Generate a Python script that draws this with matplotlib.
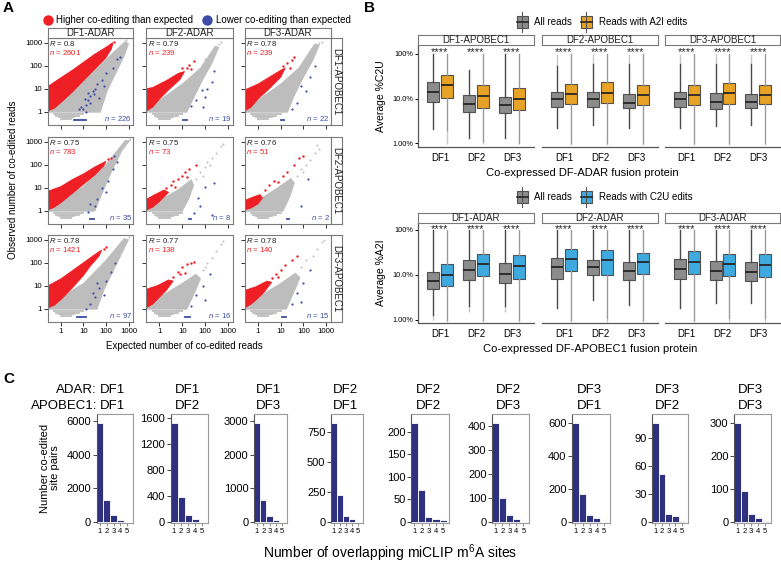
import matplotlib
matplotlib.use('Agg')
import matplotlib.pyplot as plt
import numpy as np
from matplotlib.lines import Line2D
from matplotlib.patches import Rectangle

plt.rcParams['font.family'] = ['Liberation Sans', 'DejaVu Sans']
plt.rcParams['mathtext.fontset'] = 'custom'
plt.rcParams['mathtext.rm'] = 'Liberation Sans'
plt.rcParams['mathtext.it'] = 'Liberation Sans:italic'

W, H = 781, 563
fig = plt.figure(figsize=(W / 100, H / 100), dpi=100)

RED = '#ee1f25'
BLUE_PT = '#3d4ca6'
GREY_PT = '#bdbdbd'
FRAME = '#7a7a7a'
BOX_GREY = '#8c8c8c'
ORANGE = '#e8a326'
SKY = '#3eaadf'
NAVY = '#2e3180'


def px_axes(x0, y0, x1, y1):
    return fig.add_axes([x0 / W, 1 - y1 / H, (x1 - x0) / W, (y1 - y0) / H])


def strip(x0, y0, x1, y1, label, rot=0, size=7):
    s = px_axes(x0, y0, x1, y1)
    s.set_xticks([]); s.set_yticks([])
    for sp in s.spines.values():
        sp.set_color(FRAME); sp.set_linewidth(0.8)
    s.text(0.5, 0.5, label, ha='center', va='center', rotation=rot, fontsize=size,
           transform=s.transAxes, color='#222222')
    return s


# ---------------- panel A data (log10 expected, log10 observed) ----------------
adar_cols = ['DF1-ADAR', 'DF2-ADAR', 'DF3-ADAR']
apobec_rows = ['DF1-APOBEC1', 'DF2-APOBEC1', 'DF3-APOBEC1']
r_vals = [['0.8', '0.79', '0.78'], ['0.75', '0.75', '0.76'], ['0.78', '0.77', '0.78']]
n_higher = [[2601, 239, 239], [783, 73, 51], [1421, 138, 140]]
n_lower = [[226, 19, 22], [35, 8, 2], [97, 16, 15]]

grey_cloud = [
    [[(-0.59, -0.02), (1.75, -0.02), (2.05, 0.9), (2.45, 1.7), (2.8, 2.4), (3.0, 2.95), (2.85, 3.05),
      (2.3, 2.55), (1.5, 1.8), (0.5, 0.9), (-0.59, 0.15)],
     [(-0.59, -0.02), (1.2, -0.02), (1.5, 0.6), (1.9, 1.4), (2.3, 2.1), (2.6, 2.8), (2.45, 2.85),
      (1.8, 1.9), (1.0, 1.2), (0.0, 0.5), (-0.59, 0.15)],
     [(-0.59, -0.02), (1.3, -0.02), (1.6, 0.7), (2.0, 1.5), (2.4, 2.2), (2.7, 2.9), (2.5, 2.95),
      (1.8, 1.9), (1.0, 1.2), (0.0, 0.5), (-0.59, 0.15)]],
    [[(-0.59, -0.02), (1.5, -0.02), (1.8, 0.7), (2.2, 1.6), (2.7, 2.6), (3.05, 3.05), (2.85, 3.05),
      (2.0, 2.0), (1.0, 1.05), (-0.59, 0.15)],
     [(-0.59, -0.02), (1.0, -0.02), (1.3, 0.55), (1.5, 1.1), (1.4, 1.35), (0.8, 0.9), (0.0, 0.45),
      (-0.59, 0.15)],
     [(-0.59, -0.02), (1.1, -0.02), (1.4, 0.6), (1.6, 1.2), (1.45, 1.4), (0.8, 0.95), (0.0, 0.45),
      (-0.59, 0.15)]],
    [[(-0.59, -0.02), (1.6, -0.02), (1.9, 0.8), (2.3, 1.6), (2.7, 2.4), (3.0, 3.0), (2.8, 3.05),
      (2.0, 2.1), (1.0, 1.1), (-0.59, 0.15)],
     [(-0.59, -0.02), (1.2, -0.02), (1.5, 0.6), (1.8, 1.3), (1.6, 1.5), (1.0, 1.1), (0.0, 0.5),
      (-0.59, 0.15)],
     [(-0.59, -0.02), (1.25, -0.02), (1.55, 0.65), (1.85, 1.35), (1.65, 1.55), (1.0, 1.1), (0.0, 0.5),
      (-0.59, 0.15)]],
]

red_cloud = [
    [[(-0.57, 0.04), (-0.57, 1.1), (-0.2, 1.35), (0.5, 1.8), (1.0, 2.15), (1.5, 2.5), (2.0, 2.8),
      (2.3, 3.0), (2.25, 2.75), (2.0, 2.35), (1.5, 1.85), (1.0, 1.35), (0.5, 0.85), (0.0, 0.4), (-0.3, 0.15)],
     [(-0.57, 0.04), (-0.57, 1.0), (-0.3, 1.05), (0.3, 1.35), (0.8, 1.65), (1.1, 1.75), (0.9, 1.4),
      (0.4, 0.95), (0.0, 0.55), (-0.3, 0.2)],
     [(-0.57, 0.04), (-0.57, 0.95), (0.0, 1.2), (0.5, 1.5), (1.0, 1.8), (1.2, 1.9), (1.0, 1.5),
      (0.5, 1.0), (0.0, 0.55), (-0.3, 0.2)]],
    [[(-0.57, 0.04), (-0.57, 0.85), (0.0, 1.05), (0.5, 1.35), (1.0, 1.6), (1.5, 1.9), (2.0, 2.15),
      (1.9, 1.95), (1.5, 1.55), (1.0, 1.15), (0.5, 0.75), (0.0, 0.35), (-0.3, 0.15)],
     [(-0.57, 0.04), (-0.57, 0.5), (-0.2, 0.7), (0.2, 0.9), (0.4, 0.8), (0.0, 0.4), (-0.3, 0.15)],
     [(-0.57, 0.04), (-0.57, 0.45), (-0.2, 0.6), (0.1, 0.7), (0.2, 0.55), (0.0, 0.3), (-0.3, 0.12)]],
    [[(-0.57, 0.04), (-0.57, 1.0), (0.0, 1.3), (0.5, 1.65), (1.0, 2.0), (1.5, 2.35), (1.8, 2.55),
      (1.7, 2.3), (1.3, 1.85), (1.0, 1.45), (0.5, 0.9), (0.0, 0.4), (-0.3, 0.15)],
     [(-0.57, 0.04), (-0.57, 0.85), (-0.1, 1.0), (0.4, 1.25), (0.6, 1.2), (0.3, 0.8), (0.0, 0.5), (-0.3, 0.2)],
     [(-0.57, 0.04), (-0.57, 0.8), (-0.1, 0.95), (0.4, 1.2), (0.6, 1.15), (0.3, 0.75), (0.0, 0.45), (-0.3, 0.2)]],
]

red_extra = [
    [[(2.35, 3.05), (2.2, 2.95)],
     [(1.2, 1.9), (1.3, 2.05), (1.5, 2.2), (1.0, 1.9), (0.9, 1.7), (1.4, 1.85)],
     [(1.3, 2.1), (1.5, 2.25), (1.6, 2.4), (1.1, 2.0), (1.4, 1.9)]],
    [[(2.1, 2.25), (2.2, 2.3)],
     [(0.5, 1.1), (0.6, 1.3), (0.8, 1.4), (1.0, 1.5), (1.1, 1.7), (1.3, 1.8), (0.3, 1.0), (0.7, 1.05),
      (1.6, 2.0), (1.2, 1.45)],
     [(0.3, 0.9), (0.5, 1.1), (0.7, 1.3), (0.9, 1.25), (1.1, 1.5), (1.3, 1.7), (1.6, 2.0), (1.8, 2.3),
      (2.0, 2.4)]],
    [[(1.9, 2.6), (2.0, 2.7)],
     [(0.6, 1.4), (0.8, 1.6), (1.0, 1.8), (1.2, 1.95), (1.4, 2.0), (1.5, 2.05), (0.9, 1.5), (1.1, 1.55)],
     [(0.6, 1.35), (0.8, 1.5), (1.0, 1.7), (1.2, 1.9), (1.5, 2.1), (1.7, 2.3), (0.9, 1.4)]],
]

grey_extra = [
    [[(2.9, 3.1)], [(2.6, 2.95), (2.7, 3.05), (2.0, 2.3), (2.2, 2.5)], [(2.7, 3.0), (2.8, 3.05)]],
    [[(3.05, 3.1)],
     [(1.6, 1.4), (1.8, 1.7), (2.0, 1.9), (2.1, 2.1), (2.3, 2.3), (2.5, 2.5), (2.7, 2.8), (2.8, 2.9),
      (1.9, 1.5), (2.2, 2.0)],
     [(1.7, 1.5), (1.9, 1.8), (2.1, 2.0), (2.3, 2.2), (2.5, 2.5), (2.7, 2.7), (2.6, 2.85), (2.0, 1.7)]],
    [[(3.0, 3.1)],
     [(1.9, 1.7), (2.1, 2.0), (2.3, 2.2), (2.5, 2.5), (2.7, 2.8), (2.8, 2.95), (2.0, 1.8)],
     [(1.9, 1.8), (2.1, 2.1), (2.4, 2.3), (2.6, 2.6), (2.8, 2.9), (2.9, 3.0)]],
]

blue_pts = [
    [[(1.0, 0.1), (1.1, 0.3), (1.2, 0.5), (0.9, 0.2), (1.3, 0.7), (1.4, 0.9), (1.2, 0.8), (1.5, 1.0),
      (1.6, 1.2), (1.3, 0.4), (1.1, 0.0), (1.8, 1.4), (2.0, 1.7), (2.3, 1.9), (2.5, 2.3), (2.6, 2.4),
      (1.7, 0.6), (1.9, 1.1), (0.8, 0.1), (1.05, 0.55), (1.45, 0.75)],
     [(1.85, 0.95), (1.6, 0.5), (2.0, 0.65), (2.3, 1.3), (2.4, 1.75), (1.4, 0.25), (1.9, 0.2), (2.1, 1.0)],
     [(1.9, 1.1), (2.1, 0.9), (1.7, 0.4), (2.3, 1.5), (1.5, 0.1), (2.5, 2.0)]],
    [[(1.6, 0.5), (1.8, 1.0), (2.1, 1.3), (2.3, 1.8), (2.5, 2.1), (1.5, 0.2), (1.2, -0.05), (1.3, 0.3),
      (2.0, 0.8), (2.35, 2.4)],
     [(1.7, 0.55), (1.5, -0.1), (2.3, -0.2), (2.0, 1.05), (1.8, 0.2), (2.4, 1.2)],
     [(2.2, 1.4), (1.9, 0.2)]],
    [[(1.5, 0.5), (1.7, 0.9), (2.0, 1.2), (2.2, 1.6), (1.3, 0.2), (1.4, 0.7), (1.9, 0.6), (2.4, 2.0),
      (1.1, 0.0), (1.6, 1.1)],
     [(1.6, 0.6), (1.9, 1.0), (2.2, 1.5), (1.4, 0.1), (2.0, 0.4)],
     [(1.7, 0.7), (2.0, 1.1), (2.3, 1.7), (1.5, 0.2), (1.9, 0.3)]],
]

# horizontal bands of reads below 1: (log10 obs, log10 exp start, log10 exp end)
grey_bands = [(-0.1, -0.3, 1.0), (-0.18, -0.2, 0.8), (-0.25, -0.1, 0.6), (-0.31, 0.0, 0.45)]
blue_bands = [[(-0.34, 0.6, 1.1), (-0.34, 1.05, 1.2), (-0.34, 1.0, 1.15)],
              [(-0.34, 1.3, 1.45), (-0.34, 1.3, 1.4), (-0.34, 1.3, 1.35)],
              [(-0.34, 0.7, 1.1), (-0.34, 1.1, 1.35), (-0.34, 1.05, 1.25)]]

a_cols_x = [(47.7, 133.3), (146.0, 232.7), (244.5, 331.0)]
a_rows_y = [(38.0, 125.0), (137.0, 224.0), (235.0, 322.0)]

for r in range(3):
    for c in range(3):
        x0, x1 = a_cols_x[c]
        y0, y1 = a_rows_y[r]
        ax = px_axes(x0, y0, x1, y1)
        ax.set_xscale('log'); ax.set_yscale('log')
        ax.set_xlim(0.257, 1630); ax.set_ylim(0.265, 1600)
        g = np.array(grey_cloud[r][c])
        ax.fill(10 ** g[:, 0], 10 ** g[:, 1], color=GREY_PT, lw=0.6, zorder=1)
        for ly, lx0, lx1 in grey_bands:
            ax.plot([10 ** lx0, 10 ** lx1], [10 ** ly, 10 ** ly], color=GREY_PT, lw=1.3, zorder=1)
        ly, lx0, lx1 = blue_bands[r][c]
        ax.plot([10 ** lx0, 10 ** lx1], [10 ** ly, 10 ** ly], color=BLUE_PT, lw=1.3, zorder=3)
        ge = np.array(grey_extra[r][c])
        ax.scatter(10 ** ge[:, 0], 10 ** ge[:, 1], s=2, color=GREY_PT, lw=0, zorder=1)
        rd = np.array(red_cloud[r][c])
        ax.fill(10 ** rd[:, 0], 10 ** rd[:, 1], color=RED, lw=0.6, zorder=2)
        re = np.array(red_extra[r][c])
        ax.scatter(10 ** re[:, 0], 10 ** re[:, 1], s=3, color=RED, lw=0, zorder=2)
        bp = np.array(blue_pts[r][c])
        ax.scatter(10 ** bp[:, 0], 10 ** bp[:, 1], s=2.5, color=BLUE_PT, lw=0, zorder=3)

        ax.set_xticks([1, 10, 100, 1000]); ax.set_yticks([1, 10, 100, 1000])
        ax.minorticks_off()
        ax.set_xticklabels(['1', '10', '100', '1000'] if r == 2 else [])
        ax.set_yticklabels(['1', '10', '100', '1000'] if c == 0 else [])
        ax.tick_params(length=3, width=0.7, color='#333333', labelsize=5.6, pad=1)
        for sp in ax.spines.values():
            sp.set_color(FRAME); sp.set_linewidth(0.8)
        ax.text(0.02, 0.985, r'$R$ = ' + r_vals[r][c], transform=ax.transAxes, fontsize=5.6,
                ha='left', va='top', color='#222222')
        ax.text(0.02, 0.89, r'$n$ = %d' % n_higher[r][c], transform=ax.transAxes, fontsize=5.6,
                ha='left', va='top', color=RED)
        ax.text(0.985, 0.02, r'$n$ = %d' % n_lower[r][c], transform=ax.transAxes, fontsize=5.6,
                ha='right', va='bottom', color=BLUE_PT)
        if r == 0:
            strip(x0, 28, x1, 38, adar_cols[c])
        if c == 2:
            strip(331, y0, 341.7, y1, apobec_rows[r], rot=270)

fig.text(13 / W, 1 - 180 / H, 'Observed number of co-edited reads', rotation=90, fontsize=7,
         ha='center', va='center')
fig.text(184 / W, 1 - 346 / H, 'Expected number of co-edited reads', fontsize=7, ha='center', va='center')

leg_a = [Line2D([], [], marker='o', ls='', color=RED, markersize=6.5, label='Higher co-editing than expected'),
         Line2D([], [], marker='o', ls='', color=BLUE_PT, markersize=6.5, label='Lower co-editing than expected')]
fig.legend(handles=leg_a, loc='center left', bbox_to_anchor=(38 / W, 1 - 20 / H), ncol=2, frameon=False,
           fontsize=7, handletextpad=-0.1, columnspacing=0.4, borderpad=0, borderaxespad=0)

# ---------------- panel B data (percent) ----------------
# each box: tail_lo, whisker_lo, q1, median, q3, whisker_hi, tail_hi
b_groups = ['DF1', 'DF2', 'DF3']
c2u_facets = ['DF1-APOBEC1', 'DF2-APOBEC1', 'DF3-APOBEC1']
a2i_facets = ['DF1-ADAR', 'DF2-ADAR', 'DF3-ADAR']

c2u_all = [
    [(2.06, 2.06, 8.4, 13.9, 24.0, 100, 100), (1.3, 1.3, 4.9, 7.6, 12.1, 44, 44), (1.3, 1.3, 4.7, 7.1, 11.1, 100, 100)],
    [(2.2, 2.2, 6.6, 9.8, 14.1, 55, 100), (2.6, 2.6, 6.4, 9.7, 14.1, 60, 100), (2.2, 2.2, 6.2, 8.1, 12.7, 60, 100)],
    [(2.2, 2.2, 6.4, 9.7, 14.1, 60, 100), (2.4, 2.4, 5.8, 8.4, 13.6, 60, 100), (2.6, 2.6, 6.1, 8.3, 12.9, 60, 100)],
]
c2u_a2i = [
    [(0.95, 2.0, 10.5, 19.9, 34.5, 100, 100), (0.95, 1.1, 6.2, 11.3, 19.9, 100, 100), (0.95, 1.0, 5.6, 9.8, 17.3, 100, 100)],
    [(0.9, 1.0, 7.5, 12.7, 20.9, 100, 100), (0.9, 1.0, 7.9, 13.2, 23.6, 100, 100), (0.9, 1.0, 7.3, 11.9, 19.9, 100, 100)],
    [(0.9, 1.0, 7.3, 12.0, 19.9, 100, 100), (0.9, 1.0, 7.6, 13.2, 22.4, 100, 100), (0.9, 1.0, 7.4, 12.0, 19.9, 100, 100)],
]
a2i_all = [
    [(1.0, 1.26, 4.7, 7.3, 11.2, 100, 100), (1.5, 2.0, 7.8, 12.6, 21.0, 100, 100), (1.5, 2.0, 6.4, 10.6, 18.3, 100, 100)],
    [(1.8, 1.8, 8.2, 14.5, 24.0, 100, 100), (2.7, 2.7, 9.7, 14.9, 21.0, 100, 100), (2.1, 2.1, 7.5, 12.1, 19.3, 100, 100)],
    [(1.8, 1.8, 7.9, 13.2, 22.9, 100, 100), (2.3, 2.3, 7.5, 12.1, 20.0, 100, 100), (2.3, 2.3, 7.3, 11.5, 19.3, 100, 100)],
]
a2i_c2u = [
    [(0.9, 1.0, 5.5, 9.7, 16.9, 100, 100), (0.9, 1.0, 9.3, 17.1, 29.5, 100, 100), (0.9, 1.0, 7.9, 15.4, 27.0, 100, 100)],
    [(0.9, 1.0, 12.1, 22.0, 36.9, 100, 100), (0.9, 1.1, 10.0, 21.7, 35.0, 100, 100), (0.9, 1.0, 10.3, 19.3, 31.0, 100, 100)],
    [(0.9, 1.0, 10.6, 19.3, 33.0, 100, 100), (0.9, 1.1, 9.3, 17.1, 28.6, 100, 100), (0.9, 1.1, 8.9, 16.3, 28.6, 100, 100)],
]

b_facet_x = [(418, 534), (542, 658), (665, 780)]


def box_facet(x0, x1, y0, y1, ylim, star_y, all_stats, edit_stats, edit_color, first):
    ax = px_axes(x0, y0, x1, y1)
    ax.set_yscale('log')
    ax.set_xlim(1 - 22 / 36, 3 + 22 / 36)
    ax.set_ylim(*ylim)
    for gi in range(3):
        for st, col, off, wcol in ((all_stats[gi], BOX_GREY, -7 / 36, '#4a4a4a'),
                                   (edit_stats[gi], edit_color, 7 / 36, '#9a9a9a')):
            tlo, wlo, q1, med, q3, whi, thi = st
            pos = gi + 1 + off
            ax.vlines(pos, tlo, wlo, color='#c8c8c8', lw=1.0, zorder=1)
            ax.vlines(pos, whi, thi, color='#c8c8c8', lw=1.0, zorder=1)
            ax.bxp([dict(whislo=wlo, q1=q1, med=med, q3=q3, whishi=whi)], positions=[pos], widths=12 / 36,
                   patch_artist=True, showfliers=False, showcaps=False, manage_ticks=False,
                   boxprops=dict(facecolor=col, edgecolor='#505050', linewidth=0.8),
                   whiskerprops=dict(color=wcol, linewidth=1.0),
                   medianprops=dict(color='#262626', linewidth=1.3))
        ax.text(gi + 1, star_y, '****', ha='center', va='center', fontsize=8, color='#222222')
    ax.set_xticks([1, 2, 3]); ax.set_xticklabels(b_groups, fontsize=7)
    ax.tick_params(axis='x', length=0, pad=4)
    ax.minorticks_off()
    for s in ('top', 'right'):
        ax.spines[s].set_visible(False)
    ax.spines['bottom'].set_color('#555555'); ax.spines['bottom'].set_linewidth(0.9)
    if first:
        ax.set_yticks([1, 10, 100]); ax.set_yticklabels(['1.00%', '10.0%', '100%'], fontsize=5.3)
        ax.tick_params(axis='y', length=2.5, width=0.7, pad=1)
        ax.spines['left'].set_color('#555555'); ax.spines['left'].set_linewidth(0.9)
    else:
        ax.set_yticks([])
        ax.spines['left'].set_visible(False)
    return ax


for i in range(3):
    x0, x1 = b_facet_x[i]
    box_facet(x0, x1, 45, 147, (0.826, 159), 112, c2u_all[i], c2u_a2i[i], ORANGE, i == 0)
    strip(x0, 35, x1, 45, c2u_facets[i])
    box_facet(x0, x1, 223, 323, (0.836, 142), 104, a2i_all[i], a2i_c2u[i], SKY, i == 0)
    strip(x0, 213, x1, 223, a2i_facets[i])

fig.text(381 / W, 1 - 96 / H, 'Average %C2U', rotation=90, fontsize=7.5, ha='center', va='center')
fig.text(381 / W, 1 - 273 / H, 'Average %A2I', rotation=90, fontsize=7.5, ha='center', va='center')
fig.text(582 / W, 1 - 173 / H, 'Co-expressed DF-ADAR fusion protein', fontsize=8, ha='center', va='center')
fig.text(590 / W, 1 - 349 / H, 'Co-expressed DF-APOBEC1 fusion protein', fontsize=8, ha='center', va='center')


def box_legend(yc, edit_color, edit_label):
    lg = px_axes(514, yc - 11, 700, yc + 11)
    lg.set_xlim(514, 700); lg.set_ylim(yc + 11, yc - 11)
    lg.axis('off')
    for xc, col, lab, tx in ((522, BOX_GREY, 'All reads', 534), (586, edit_color, edit_label, 599)):
        lg.plot([xc, xc], [yc - 10, yc + 10], color='#555555', lw=0.8)
        lg.add_patch(Rectangle((xc - 5.5, yc - 6), 11, 12, facecolor=col, edgecolor='#505050', lw=0.8))
        lg.plot([xc - 5.5, xc + 5.5], [yc, yc], color='#262626', lw=1.2)
        lg.text(tx, yc, lab, fontsize=7, va='center', ha='left')


box_legend(22, ORANGE, 'Reads with A2I edits')
box_legend(197, SKY, 'Reads with C2U edits')

# ---------------- panel C data ----------------
c_adar = ['DF1', 'DF1', 'DF1', 'DF2', 'DF2', 'DF2', 'DF3', 'DF3', 'DF3']
c_apobec = ['DF1', 'DF2', 'DF3', 'DF1', 'DF2', 'DF3', 'DF1', 'DF2', 'DF3']
overlap_n = [1, 2, 3, 4, 5]
site_pairs = [
    [5880, 1290, 416, 125, 8],
    [1513, 382, 112, 46, 5],
    [2941, 653, 188, 59, 10],
    [825, 222, 53, 28, 2],
    [219, 72, 11, 6.6, 3.7],
    [411, 102, 28, 12.5, 1],
    [600, 172, 44, 26, 1],
    [105.7, 51.6, 8.2, 6.4, 0.7],
    [300, 94, 25, 13, 4],
]
c_yticks = [[0, 2000, 4000, 6000], [0, 400, 800, 1200, 1600], [0, 1000, 2000, 3000], [0, 250, 500, 750],
            [0, 50, 100, 150, 200], [0, 100, 200, 300, 400], [0, 200, 400, 600], [0, 30, 60, 90],
            [0, 100, 200, 300]]
c_ytop = [6455, 1661, 3228, 905, 240.6, 451, 658, 116, 329]
c_x = [(96.7, 133), (170.7, 208), (254, 287.3), (331, 363.3), (411, 449.3), (492, 529.3), (572, 610),
       (652, 687.7), (734, 771)]

for i in range(9):
    x0, x1 = c_x[i]
    ax = px_axes(x0, 413.7, x1, 522.7)
    ax.bar(overlap_n, site_pairs[i], width=1.0, color=NAVY, edgecolor='white', linewidth=0.6)
    ax.set_xlim(0.52, 5.83)
    ax.set_ylim(-0.0065 * c_ytop[i], c_ytop[i])
    ax.set_yticks(c_yticks[i])
    ax.set_yticklabels([str(v) for v in c_yticks[i]], fontsize=8)
    ax.set_xticks(overlap_n)
    ax.set_xticklabels([str(v) for v in overlap_n], fontsize=5.5)
    ax.tick_params(axis='y', length=3, width=0.7, pad=1, color='#444444')
    ax.tick_params(axis='x', length=2, width=0.6, pad=1.5, color='#777777')
    for sp in ax.spines.values():
        sp.set_color('#9a9a9a'); sp.set_linewidth(0.8)
    ax.spines['left'].set_color('#555555')
    xc = (x0 + x1) / 2 - 2
    fig.text(xc / W, 1 - 390 / H, c_adar[i], fontsize=9.5, ha='center', va='center')
    fig.text(xc / W, 1 - 406 / H, c_apobec[i], fontsize=9.5, ha='center', va='center')

fig.text(97 / W, 1 - 390 / H, 'ADAR:', fontsize=9.5, ha='right', va='center')
fig.text(97 / W, 1 - 406 / H, 'APOBEC1:', fontsize=9.5, ha='right', va='center')
fig.text(50 / W, 1 - 468 / H, 'Number co-edited\nsite pairs', rotation=90, fontsize=8, ha='center',
         va='center', linespacing=1.0)
fig.text(390 / W, 1 - 553 / H, 'Number of overlapping miCLIP m$^{6}$A sites', fontsize=10, ha='center',
         va='center')

for lab, x, y in (('A', 3, 8), ('B', 364, 8), ('C', 3, 379)):
    fig.text(x / W, 1 - y / H, lab, fontsize=11, fontweight='bold', ha='left', va='center')

fig.savefig('out.png', dpi=100)
